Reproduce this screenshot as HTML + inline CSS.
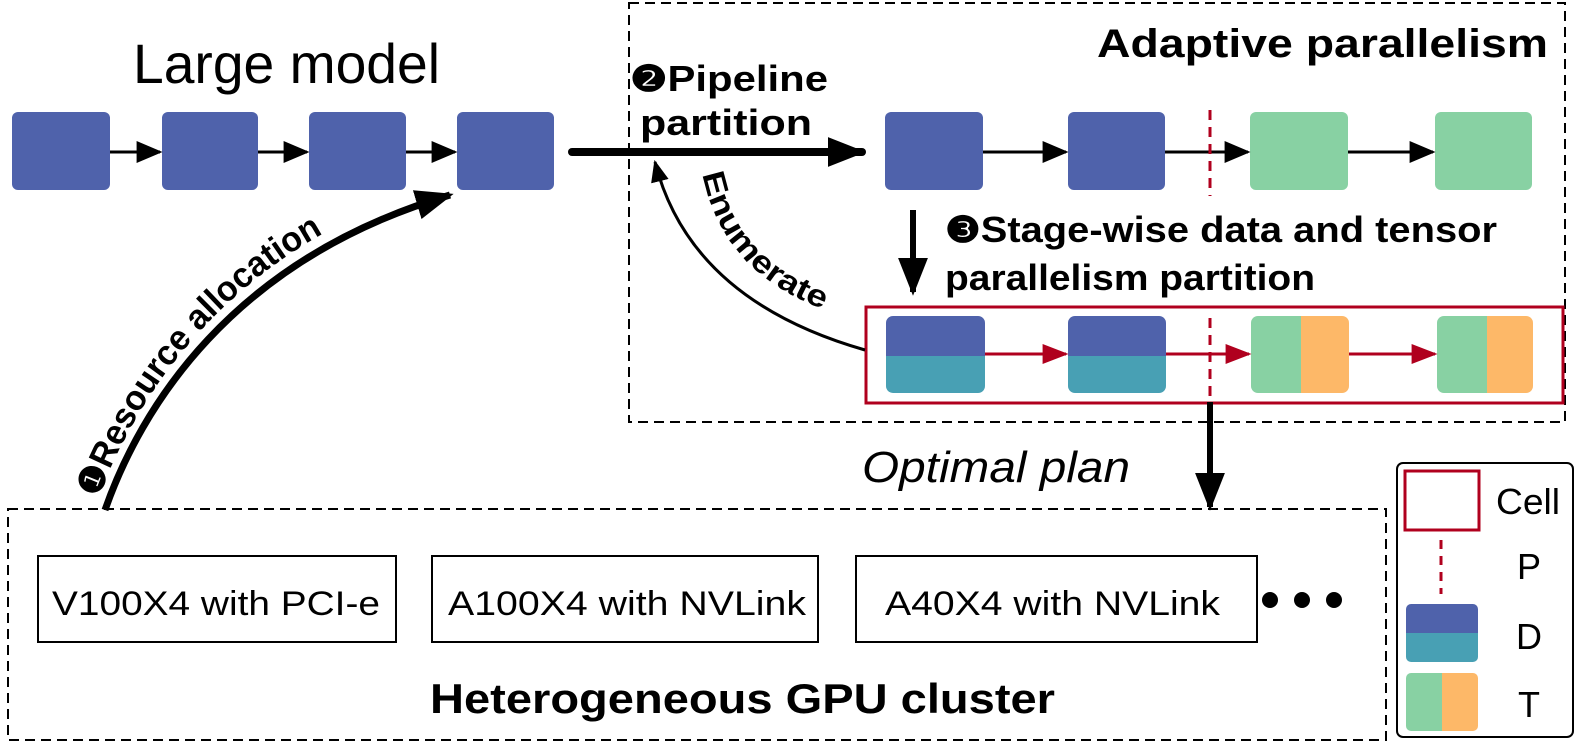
<!DOCTYPE html>
<html><head><meta charset="utf-8"><style>
body{margin:0;background:#fff;}
svg{display:block;}
text{font-family:"Liberation Sans",sans-serif;}
</style></head><body>
<svg width="1578" height="751" viewBox="0 0 1578 751" xmlns="http://www.w3.org/2000/svg">
<defs>
<marker id="ahs" viewBox="0 0 10 10" refX="9" refY="5" markerWidth="26" markerHeight="22" orient="auto" markerUnits="userSpaceOnUse" preserveAspectRatio="none"><path d="M0,0 L10,5 L0,10z" fill="#000"/></marker>
<marker id="ahr" viewBox="0 0 10 10" refX="9" refY="5" markerWidth="26" markerHeight="20" orient="auto" markerUnits="userSpaceOnUse" preserveAspectRatio="none"><path d="M0,0 L10,5 L0,10z" fill="#b0001e"/></marker>
<marker id="ahb" viewBox="0 0 10 10" refX="9" refY="5" markerWidth="38" markerHeight="30" orient="auto" markerUnits="userSpaceOnUse" preserveAspectRatio="none"><path d="M0,0 L10,5 L0,10z" fill="#000"/></marker>
<marker id="ahe" viewBox="0 0 10 10" refX="9" refY="5" markerWidth="22" markerHeight="18" orient="auto" markerUnits="userSpaceOnUse" preserveAspectRatio="none"><path d="M0,0 L10,5 L0,10z" fill="#000"/></marker>
<path id="rpath" d="M97,502 C132,405 222,250 440,184"/>
<path id="epath" d="M702,172 Q724,285 852,318"/>
</defs>

<rect x="629" y="3" width="936" height="419" fill="none" stroke="#000" stroke-width="2" stroke-dasharray="10,6"/>
<rect x="8" y="509" width="1378" height="231" fill="none" stroke="#000" stroke-width="2" stroke-dasharray="10,6"/>

<text x="133" y="83" font-size="56" textLength="307" lengthAdjust="spacingAndGlyphs">Large model</text>

<g fill="#4f62ab">
<rect x="12" y="112" width="98" height="78" rx="6"/>
<rect x="162" y="112" width="96" height="78" rx="6"/>
<rect x="309" y="112" width="97" height="78" rx="6"/>
<rect x="457" y="112" width="97" height="78" rx="6"/>
</g>
<g stroke="#000" stroke-width="3" marker-end="url(#ahs)">
<line x1="110" y1="152" x2="160" y2="152"/>
<line x1="258" y1="152" x2="307" y2="152"/>
<line x1="406" y1="152" x2="455" y2="152"/>
</g>

<line x1="572" y1="152" x2="862" y2="152" stroke="#000" stroke-width="8" stroke-linecap="round" marker-end="url(#ahb)"/>
<text x="630" y="91" font-size="36" font-weight="bold" textLength="198" lengthAdjust="spacingAndGlyphs">❷Pipeline</text>
<text x="640" y="135" font-size="36" font-weight="bold" textLength="172" lengthAdjust="spacingAndGlyphs">partition</text>

<text x="1097" y="57" font-size="40" font-weight="bold" textLength="451" lengthAdjust="spacingAndGlyphs">Adaptive parallelism</text>

<rect x="885" y="112" width="98" height="78" rx="6" fill="#4f62ab"/>
<rect x="1068" y="112" width="97" height="78" rx="6" fill="#4f62ab"/>
<rect x="1250" y="112" width="98" height="78" rx="6" fill="#88d1a3"/>
<rect x="1435" y="112" width="97" height="78" rx="6" fill="#88d1a3"/>
<g stroke="#000" stroke-width="3" marker-end="url(#ahs)">
<line x1="983" y1="152" x2="1066" y2="152"/>
<line x1="1165" y1="152" x2="1248" y2="152"/>
<line x1="1348" y1="152" x2="1433" y2="152"/>
</g>
<line x1="1210" y1="110" x2="1210" y2="196" stroke="#b0001e" stroke-width="3" stroke-dasharray="10,7"/>

<line x1="913" y1="210" x2="913" y2="292" stroke="#000" stroke-width="6" marker-end="url(#ahb)"/>
<text x="945" y="242" font-size="36" font-weight="bold" textLength="552" lengthAdjust="spacingAndGlyphs">❸Stage-wise data and tensor</text>
<text x="945" y="290" font-size="36" font-weight="bold" textLength="370" lengthAdjust="spacingAndGlyphs">parallelism partition</text>

<rect x="866" y="307" width="697" height="96" fill="none" stroke="#b0001e" stroke-width="3"/>
<clipPath id="c1"><rect x="886" y="316" width="99" height="77" rx="7"/></clipPath>
<g clip-path="url(#c1)"><rect x="886" y="316" width="99" height="40" fill="#4f62ab"/><rect x="886" y="356" width="99" height="37" fill="#48a0b4"/></g>
<clipPath id="c2"><rect x="1068" y="316" width="98" height="77" rx="7"/></clipPath>
<g clip-path="url(#c2)"><rect x="1068" y="316" width="98" height="40" fill="#4f62ab"/><rect x="1068" y="356" width="98" height="37" fill="#48a0b4"/></g>
<clipPath id="c3"><rect x="1251" y="316" width="98" height="77" rx="7"/></clipPath>
<g clip-path="url(#c3)"><rect x="1251" y="316" width="50" height="77" fill="#88d1a3"/><rect x="1301" y="316" width="48" height="77" fill="#fdb868"/></g>
<clipPath id="c4"><rect x="1437" y="316" width="96" height="77" rx="7"/></clipPath>
<g clip-path="url(#c4)"><rect x="1437" y="316" width="50" height="77" fill="#88d1a3"/><rect x="1487" y="316" width="46" height="77" fill="#fdb868"/></g>
<g stroke="#b0001e" stroke-width="3" marker-end="url(#ahr)">
<line x1="985" y1="354" x2="1066" y2="354"/>
<line x1="1166" y1="354" x2="1249" y2="354"/>
<line x1="1349" y1="354" x2="1435" y2="354"/>
</g>
<line x1="1210" y1="318" x2="1210" y2="398" stroke="#b0001e" stroke-width="3" stroke-dasharray="10,7"/>

<path d="M865,350 Q690,300 655,162" fill="none" stroke="#000" stroke-width="3" marker-end="url(#ahe)"/>
<text font-size="31" font-weight="bold"><textPath href="#epath" startOffset="2" textLength="190" lengthAdjust="spacingAndGlyphs">Enumerate</textPath></text>

<path d="M105,510 C140,410 230,260 450,195" fill="none" stroke="#000" stroke-width="7" marker-end="url(#ahb)"/>
<text font-size="35" font-weight="bold"><textPath href="#rpath" startOffset="4" textLength="355" lengthAdjust="spacingAndGlyphs">❶Resource allocation</textPath></text>

<line x1="1210" y1="402" x2="1210" y2="507" stroke="#000" stroke-width="6" marker-end="url(#ahb)"/>
<text x="862" y="482" font-size="44" font-style="italic" textLength="268" lengthAdjust="spacingAndGlyphs">Optimal plan</text>

<g fill="#fff" stroke="#000" stroke-width="2">
<rect x="38" y="556" width="358" height="86"/>
<rect x="432" y="556" width="386" height="86"/>
<rect x="856" y="556" width="401" height="86"/>
</g>
<g font-size="34">
<text x="52" y="615" textLength="328" lengthAdjust="spacingAndGlyphs">V100X4 with PCI-e</text>
<text x="448" y="615" textLength="358" lengthAdjust="spacingAndGlyphs">A100X4 with NVLink</text>
<text x="885" y="615" textLength="335" lengthAdjust="spacingAndGlyphs">A40X4 with NVLink</text>
</g>
<circle cx="1270" cy="600" r="8"/><circle cx="1302" cy="600" r="8"/><circle cx="1334" cy="600" r="8"/>
<text x="430" y="713" font-size="42" font-weight="bold" textLength="625" lengthAdjust="spacingAndGlyphs">Heterogeneous GPU cluster</text>

<rect x="1397" y="463" width="176" height="274" rx="6" fill="#fff" stroke="#000" stroke-width="2"/>
<rect x="1405" y="471" width="74" height="59" fill="none" stroke="#b0001e" stroke-width="3"/>
<line x1="1441" y1="540" x2="1441" y2="594" stroke="#b0001e" stroke-width="3" stroke-dasharray="9,7"/>
<clipPath id="l1"><rect x="1406" y="604" width="72" height="58" rx="5"/></clipPath>
<g clip-path="url(#l1)"><rect x="1406" y="604" width="72" height="29" fill="#4f62ab"/><rect x="1406" y="633" width="72" height="29" fill="#48a0b4"/></g>
<clipPath id="l2"><rect x="1406" y="673" width="72" height="58" rx="5"/></clipPath>
<g clip-path="url(#l2)"><rect x="1406" y="673" width="36" height="58" fill="#88d1a3"/><rect x="1442" y="673" width="36" height="58" fill="#fdb868"/></g>
<g font-size="36" text-anchor="middle">
<text x="1528" y="514" textLength="64" lengthAdjust="spacingAndGlyphs">Cell</text>
<text x="1529" y="579">P</text>
<text x="1529" y="649">D</text>
<text x="1529" y="717">T</text>
</g>
</svg>
</body></html>
